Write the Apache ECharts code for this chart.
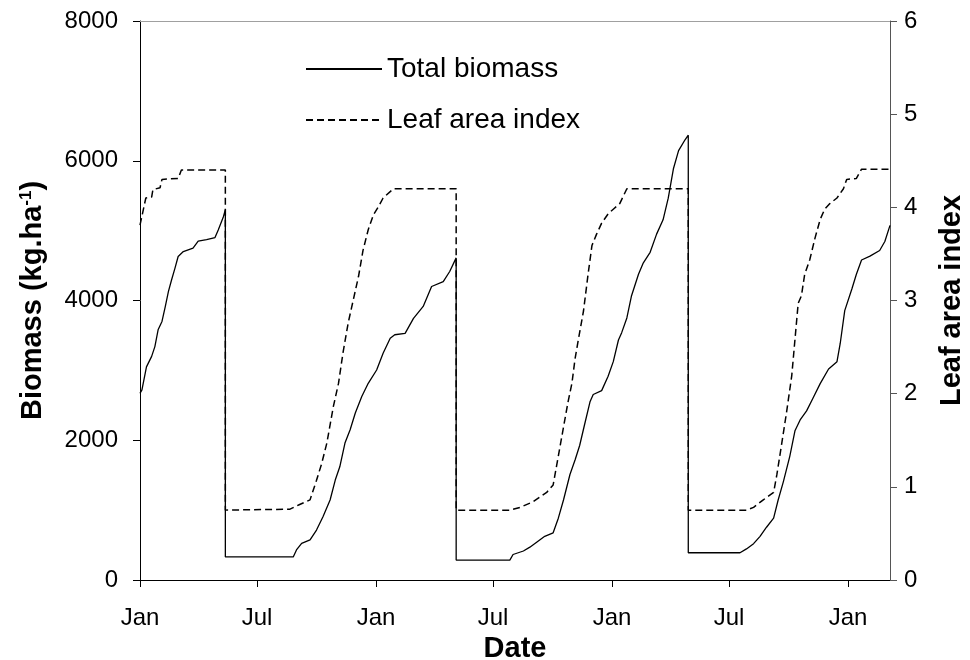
<!DOCTYPE html>
<html>
<head>
<meta charset="utf-8">
<script src="https://cdn.jsdelivr.net/npm/echarts@6/dist/echarts.min.js"></script>
<style>
  html, body { margin: 0; padding: 0; background: #fff; }
  #chart { width: 970px; height: 660px; }
</style>
</head>
<body>
<div id="chart"></div>
<script>
// days counted from 1 Jan of the first year
const tickDays = [0, 181, 365, 546, 730, 911, 1095];
const tickLabels = ['Jan', 'Jul', 'Jan', 'Jul', 'Jan', 'Jul', 'Jan'];

// Total biomass (kg/ha)
const biomassDays = [0, 3, 10, 18, 23, 28, 34, 39, 44, 49, 54, 59, 67, 82, 90, 103, 116, 121, 129, 132,
  132, 237, 242, 250, 263, 273, 283, 294, 302, 309, 317, 325, 333, 343, 353, 366, 376, 387, 394, 410,
  423, 438, 451, 469, 479, 489,
  489, 572, 577, 593, 603, 614, 626, 639, 647, 655, 665, 673, 680, 688, 696, 701, 714, 724, 732, 740,
  745, 753, 760, 771, 778, 789, 799, 809, 817, 825, 833, 843, 848,
  848, 928, 938, 949, 959, 969, 980, 987, 995, 1005, 1013, 1021, 1031, 1041, 1052, 1065, 1078, 1083,
  1090, 1101, 1108, 1116, 1129, 1144, 1152, 1160];
const biomass = [2670, 2720, 3050, 3200, 3340, 3580, 3700, 3910, 4130, 4300, 4460, 4630, 4700, 4750, 4850, 4870, 4900, 5010, 5200, 5300,
  330, 330, 430, 525, 575, 715, 905, 1145, 1430, 1620, 1960, 2150, 2390, 2625, 2815, 3005, 3245, 3460, 3510, 3530,
  3745, 3915, 4200, 4270, 4415, 4610,
  285, 285, 365, 415, 470, 545, 625, 675, 885, 1145, 1510, 1720, 1925, 2240, 2550, 2655, 2710, 2915, 3125, 3435,
  3540, 3750, 4060, 4375, 4530, 4690, 4950, 5155, 5465, 5885, 6145, 6300, 6365,
  390, 390, 445, 520, 625, 755, 885, 1145, 1405, 1770, 2135, 2290, 2420, 2605, 2810, 3020, 3125, 3385,
  3855, 4165, 4375, 4580, 4635, 4715, 4845, 5075];

// Leaf area index
const laiDays = [0, 5, 9, 18, 20, 31, 34, 59, 64, 132,
  132, 232, 247, 263, 273, 281, 289, 299, 307, 314, 322, 330, 338, 345, 353, 361, 369, 376, 392, 489,
  489, 572, 588, 608, 629, 639, 647, 655, 662, 668, 673, 678, 686, 693, 699, 706, 714, 724, 732, 742, 753, 848,
  848, 938, 949, 964, 980, 985, 992, 1000, 1008, 1013, 1018, 1023, 1028, 1036, 1044, 1052, 1059, 1067, 1078,
  1088, 1093, 1108, 1116, 1160];
const lai = [3.81, 3.97, 4.10, 4.11, 4.19, 4.21, 4.30, 4.31, 4.40, 4.40,
  0.75, 0.76, 0.81, 0.86, 1.07, 1.25, 1.47, 1.86, 2.11, 2.44, 2.76, 3.01, 3.26, 3.54, 3.76, 3.92, 4.01, 4.10, 4.20, 4.20,
  0.75, 0.75, 0.78, 0.84, 0.94, 1.02, 1.33, 1.64, 1.91, 2.11, 2.38, 2.58, 2.89, 3.28, 3.59, 3.71, 3.83, 3.93, 3.98, 4.04, 4.20, 4.20,
  0.75, 0.75, 0.78, 0.86, 0.94, 1.13, 1.44, 1.80, 2.19, 2.58, 2.97, 3.05, 3.28, 3.44, 3.67, 3.87, 3.98, 4.04, 4.10,
  4.20, 4.30, 4.31, 4.41, 4.41];

const font = 'Liberation Sans, Arial, sans-serif';
const chart = echarts.init(document.getElementById('chart'));

const option = {
  animation: false,
  backgroundColor: '#fff',
  grid: { left: 140, right: 80, top: 21, bottom: 80, outerBoundsMode: 'none', containLabel: false },
  legend: {
    orient: 'vertical',
    left: 300,
    top: 49,
    itemWidth: 76,
    itemHeight: 14,
    itemGap: 21,
    itemStyle: { opacity: 0 },
    textStyle: { fontFamily: font, fontSize: 28, color: '#000', lineHeight: 30 },
    data: ['Total biomass', 'Leaf area index']
  },
  xAxis: [
    {
      type: 'value',
      min: 0,
      max: 1160,
      name: 'Date',
      nameLocation: 'middle',
      nameGap: 47,
      nameTextStyle: { fontFamily: font, fontSize: 29, fontWeight: 'bold', color: '#000' },
      axisLine: { onZero: false, lineStyle: { color: '#000', width: 1 } },
      axisTick: { length: 7, customValues: tickDays, lineStyle: { color: '#000' } },
      axisLabel: {
        customValues: tickDays,
        margin: 26,
        fontFamily: font, fontSize: 24, color: '#000',
        formatter: v => tickLabels[tickDays.indexOf(v)]
      },
      splitLine: { show: false }
    },
    {
      type: 'value',
      position: 'top',
      min: 0,
      max: 1160,
      axisLine: { show: true, onZero: false, lineStyle: { color: '#a0a0a0', width: 1 } },
      axisTick: { show: false },
      axisLabel: { show: false },
      splitLine: { show: false }
    }
  ],
  yAxis: [
    {
      type: 'value',
      min: 0,
      max: 8000,
      interval: 2000,
      name: 'Biomass (kg.ha{sup|-1})',
      nameLocation: 'middle',
      nameGap: 92,
      nameTextStyle: {
        fontFamily: font, fontSize: 29, fontWeight: 'bold', color: '#000',
        rich: { sup: { fontFamily: font, fontSize: 17, fontWeight: 'bold', color: '#000', verticalAlign: 'top', lineHeight: 30 } }
      },
      axisLine: { show: true, onZero: false, lineStyle: { color: '#000', width: 1 } },
      axisTick: { show: true, length: 7, lineStyle: { color: '#000' } },
      axisLabel: { margin: 22, fontFamily: font, fontSize: 24, color: '#000', formatter: v => String(v) },
      splitLine: { show: false }
    },
    {
      type: 'value',
      position: 'right',
      min: 0,
      max: 6,
      interval: 1,
      name: 'Leaf area index',
      nameLocation: 'middle',
      nameGap: 47,
      nameTextStyle: { fontFamily: font, fontSize: 29, fontWeight: 'bold', color: '#000' },
      axisLine: { show: true, onZero: false, lineStyle: { color: '#555', width: 1 } },
      axisTick: { show: true, length: 7, lineStyle: { color: '#555' } },
      axisLabel: { margin: 14, fontFamily: font, fontSize: 24, color: '#000', formatter: v => String(v) },
      splitLine: { show: false }
    }
  ],
  series: [
    {
      name: 'Total biomass',
      type: 'line',
      yAxisIndex: 0,
      symbol: 'none',
      lineStyle: { color: '#000', width: 1.3 },
      itemStyle: { color: '#000' },
      data: biomassDays.map((d, i) => [d, biomass[i]])
    },
    {
      name: 'Leaf area index',
      type: 'line',
      yAxisIndex: 1,
      symbol: 'none',
      lineStyle: { color: '#000', width: 1.5, type: [7, 4] },
      itemStyle: { color: '#000' },
      data: laiDays.map((d, i) => [d, lai[i]])
    }
  ]
};

chart.setOption(option);
</script>
</body>
</html>
